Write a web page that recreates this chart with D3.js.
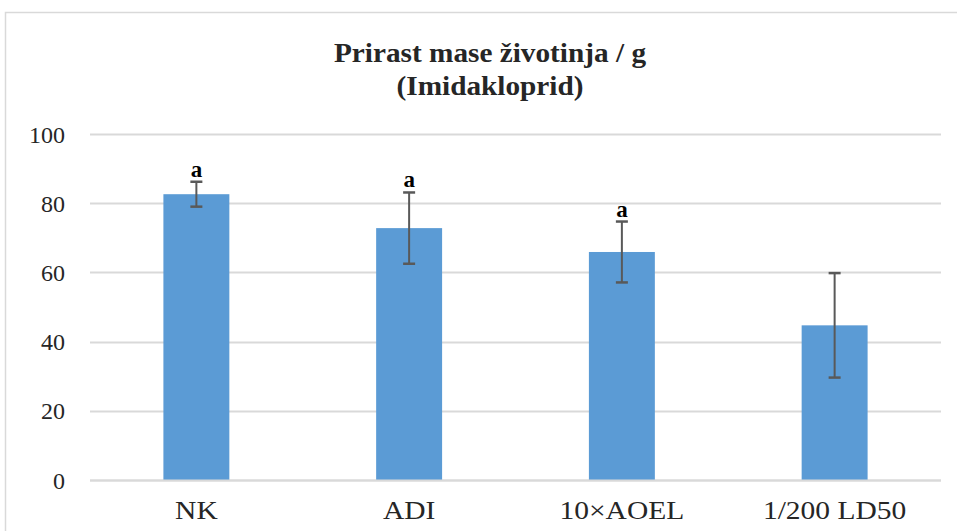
<!DOCTYPE html>
<html><head><meta charset="utf-8">
<script src="https://cdn.jsdelivr.net/npm/d3@7"></script>
<style>body{margin:0;background:#fff}svg{display:block}</style>
</head><body>
<svg id="c" width="957" height="531"></svg>
<script>
const categories = ["NK", "ADI", "10×AOEL", "1/200 LD50"];
const values = [82.6, 72.8, 65.9, 44.7];
const errors = [3.6, 10.3, 8.8, 15.1];
const letters = ["a", "a", "a", ""];
const yTicks = [0, 20, 40, 60, 80, 100];
const titleLines = ["Prirast mase životinja / g", "(Imidakloprid)"];

const svg = d3.select("#c");
const font = "'Liberation Serif', 'Times New Roman', serif";
function stretch(sel, k) {
  sel.each(function() {
    const w = this.getComputedTextLength();
    d3.select(this).attr("textLength", w * k).attr("lengthAdjust", "spacingAndGlyphs");
  });
}
svg.append("rect").attr("x", 5.5).attr("y", 12.5).attr("width", 970).attr("height", 540)
  .attr("fill", "#fff").attr("stroke", "#D9D9D9").attr("stroke-width", 1.5);

const pLeft = 90, pRight = 941, pTop = 134, pBottom = 480;
const x = d3.scaleBand().domain(categories).range([pLeft, pRight]).paddingInner(0.69).paddingOuter(0.345);
const y = d3.scaleLinear().domain([0, 100]).range([pBottom, pTop]);

// grid
svg.append("g").selectAll("line").data(yTicks).join("line")
  .attr("x1", pLeft).attr("x2", pRight)
  .attr("y1", d => Math.round(y(d)) + 0.5).attr("y2", d => Math.round(y(d)) + 0.5)
  .attr("stroke", "#D9D9D9").attr("stroke-width", 2);

// y axis labels
const ya = svg.append("g").attr("transform", `translate(${pLeft - 25},0)`)
  .call(d3.axisLeft(y).tickValues(yTicks).tickSize(0).tickPadding(0));
ya.select(".domain").remove();
ya.selectAll("text").attr("font-family", font).attr("font-size", 24).attr("fill", "#262626").attr("dy", "0.34em");

// bars
svg.append("g").selectAll("rect").data(categories).join("rect")
  .attr("x", d => x(d)).attr("width", x.bandwidth())
  .attr("y", (d, i) => y(values[i])).attr("height", (d, i) => y(0) - y(values[i]))
  .attr("fill", "#5B9BD5");

// x axis line
svg.append("line").attr("x1", pLeft).attr("x2", pRight).attr("y1", pBottom + 0.5).attr("y2", pBottom + 0.5)
  .attr("stroke", "#D9D9D9").attr("stroke-width", 2);

// error bars
const eg = svg.append("g").attr("stroke", "#595959").attr("stroke-width", 2);
categories.forEach((c, i) => {
  const cx = x(c) + x.bandwidth() / 2;
  const y1 = y(values[i] + errors[i]), y2 = y(values[i] - errors[i]);
  eg.append("line").attr("x1", cx).attr("x2", cx).attr("y1", y1).attr("y2", y2);
  eg.append("line").attr("x1", cx - 6).attr("x2", cx + 6).attr("y1", y1).attr("y2", y1).attr("stroke-width", 2.5);
  eg.append("line").attr("x1", cx - 6).attr("x2", cx + 6).attr("y1", y2).attr("y2", y2).attr("stroke-width", 2.5);
});

// letters
svg.append("g").selectAll("text").data(categories).join("text")
  .attr("x", d => x(d) + x.bandwidth() / 2)
  .attr("y", (d, i) => y(values[i] + errors[i]) - 5)
  .attr("text-anchor", "middle").attr("font-family", font).attr("font-weight", "bold")
  .attr("font-size", 23).attr("fill", "#000")
  .text((d, i) => letters[i]);

// x labels
const xa = svg.append("g").attr("transform", `translate(0,${pBottom})`)
  .call(d3.axisBottom(x).tickSize(0).tickPadding(0));
xa.select(".domain").remove();
const xt = xa.selectAll("text").attr("font-family", font).attr("font-size", 25).attr("fill", "#262626")
  .attr("dy", null).attr("y", 39);
stretch(xt, 1.18);

// title
const tt = svg.append("g").selectAll("text").data(titleLines).join("text")
  .attr("x", 490).attr("y", (d, i) => 62 + i * 33)
  .attr("text-anchor", "middle").attr("font-family", font).attr("font-weight", "bold")
  .attr("font-size", 28).attr("fill", "#262626").text(d => d);
stretch(tt, 1.045);
</script>
</body></html>
